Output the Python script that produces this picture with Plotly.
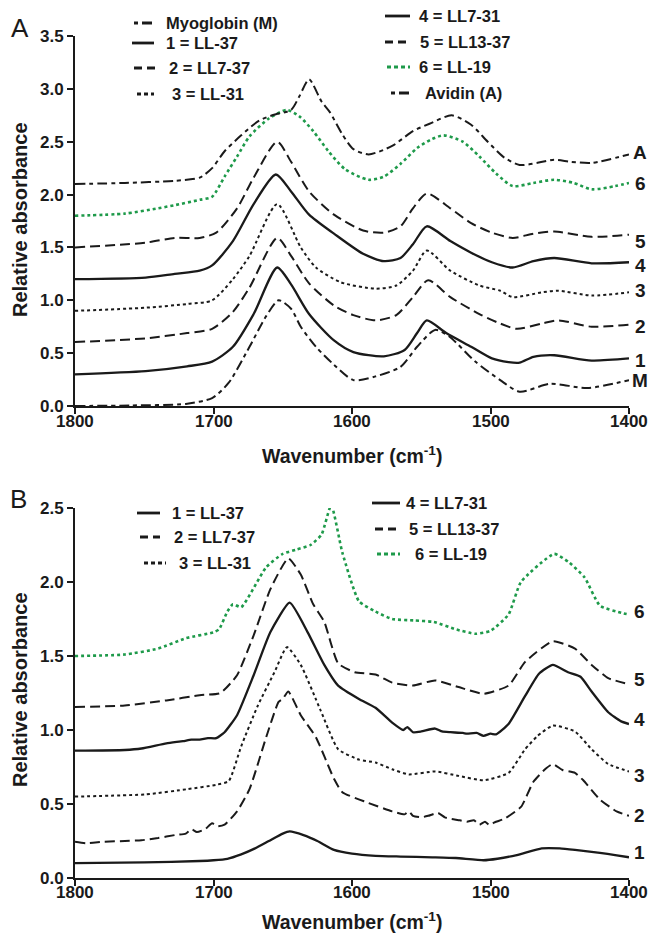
import plotly.graph_objects as go

W, H = 655, 938
def px(x):
    return x / W
def py(y):
    return 1 - y / H

FONT = "Liberation Sans, Arial, sans-serif"
BLACK = "#1a1a1a"
GREEN = "#1e9a4a"

# ---------------- Panel A data (wavenumber, relative absorbance) ----------------
a_m_x = [1800, 1760, 1720, 1701, 1689, 1674, 1662, 1653, 1644, 1637, 1626, 1613, 1599, 1583, 1565, 1553, 1540, 1530, 1511, 1493, 1479, 1457, 1430, 1400]
a_m_y = [0.0, 0.005, 0.02, 0.075, 0.22, 0.56, 0.85, 1.0, 0.92, 0.75, 0.56, 0.39, 0.245, 0.28, 0.37, 0.56, 0.72, 0.66, 0.42, 0.245, 0.135, 0.21, 0.17, 0.245]

a_1_x = [1800, 1749, 1719, 1701, 1686, 1671, 1654, 1644, 1631, 1613, 1599, 1577, 1562, 1553, 1546, 1532, 1514, 1499, 1487, 1479, 1469, 1454, 1427, 1400]
a_1_y = [0.30, 0.33, 0.375, 0.42, 0.56, 0.87, 1.31, 1.15, 0.87, 0.62, 0.51, 0.47, 0.53, 0.69, 0.81, 0.69, 0.56, 0.45, 0.415, 0.41, 0.465, 0.48, 0.43, 0.45]

a_2_x = [1800, 1749, 1719, 1701, 1686, 1674, 1654, 1644, 1631, 1613, 1599, 1583, 1568, 1556, 1545, 1529, 1508, 1493, 1481, 1463, 1451, 1427, 1400]
a_2_y = [0.605, 0.64, 0.69, 0.73, 0.89, 1.12, 1.59, 1.42, 1.16, 0.95, 0.86, 0.81, 0.86, 1.03, 1.19, 1.03, 0.87, 0.78, 0.73, 0.78, 0.81, 0.75, 0.77]

a_3_x = [1800, 1749, 1719, 1701, 1686, 1674, 1654, 1637, 1626, 1608, 1583, 1568, 1556, 1546, 1529, 1508, 1493, 1484, 1463, 1451, 1427, 1400]
a_3_y = [0.90, 0.93, 0.965, 1.0, 1.2, 1.42, 1.91, 1.50, 1.31, 1.17, 1.11, 1.14, 1.28, 1.47, 1.28, 1.14, 1.09, 1.03, 1.075, 1.09, 1.045, 1.075]

a_4_x = [1800, 1749, 1728, 1710, 1701, 1686, 1671, 1655, 1644, 1631, 1613, 1592, 1577, 1565, 1556, 1546, 1529, 1514, 1499, 1484, 1469, 1454, 1427, 1400]
a_4_y = [1.20, 1.215, 1.25, 1.28, 1.33, 1.56, 1.91, 2.19, 2.03, 1.81, 1.63, 1.44, 1.37, 1.40, 1.53, 1.70, 1.56, 1.45, 1.36, 1.31, 1.37, 1.40, 1.35, 1.36]

a_5_x = [1800, 1749, 1728, 1710, 1698, 1683, 1671, 1654, 1644, 1631, 1613, 1592, 1577, 1565, 1556, 1546, 1529, 1514, 1499, 1484, 1469, 1454, 1427, 1400]
a_5_y = [1.50, 1.545, 1.59, 1.59, 1.64, 1.87, 2.16, 2.50, 2.31, 2.03, 1.81, 1.66, 1.64, 1.70, 1.87, 2.01, 1.87, 1.73, 1.64, 1.59, 1.63, 1.65, 1.60, 1.62]

a_6_x = [1800, 1764, 1740, 1728, 1710, 1701, 1692, 1683, 1674, 1660, 1647, 1638, 1628, 1617, 1605, 1588, 1577, 1565, 1553, 1543, 1534, 1520, 1508, 1496, 1484, 1469, 1454, 1440, 1427, 1410, 1400]
a_6_y = [1.80, 1.82, 1.87, 1.90, 1.95, 1.98, 2.17, 2.36, 2.55, 2.72, 2.80, 2.74, 2.60, 2.41, 2.24, 2.14, 2.17, 2.29, 2.44, 2.52, 2.56, 2.50, 2.36, 2.20, 2.08, 2.11, 2.14, 2.11, 2.05, 2.08, 2.11]

a_a_x = [1800, 1764, 1728, 1710, 1701, 1692, 1680, 1667, 1655, 1644, 1638, 1631, 1622, 1616, 1607, 1599, 1588, 1571, 1556, 1544, 1528, 1514, 1502, 1490, 1479, 1466, 1454, 1442, 1427, 1400]
a_a_y = [2.10, 2.11, 2.13, 2.16, 2.25, 2.41, 2.56, 2.70, 2.76, 2.80, 2.93, 3.09, 2.88, 2.78, 2.57, 2.43, 2.38, 2.46, 2.60, 2.67, 2.75, 2.66, 2.50, 2.35, 2.28, 2.30, 2.33, 2.31, 2.30, 2.38]

# ---------------- Panel B data ----------------
b_1_x = [1800, 1750, 1710, 1700, 1690, 1680, 1670, 1660, 1650, 1645, 1635, 1625, 1613, 1600, 1583, 1565, 1542, 1525, 1505, 1495, 1481, 1463, 1450, 1439, 1421, 1410, 1400]
b_1_y = [0.10, 0.105, 0.115, 0.12, 0.13, 0.16, 0.20, 0.25, 0.30, 0.315, 0.29, 0.25, 0.19, 0.165, 0.15, 0.145, 0.14, 0.135, 0.12, 0.13, 0.155, 0.20, 0.20, 0.19, 0.17, 0.155, 0.14]

b_2_x = [1800, 1792, 1779, 1764, 1752, 1740, 1728, 1720, 1716, 1712, 1706, 1701, 1697, 1692, 1683, 1674, 1662, 1653, 1650, 1646, 1637, 1626, 1613, 1607, 1589, 1571, 1562, 1559, 1556, 1550, 1545, 1538, 1533, 1529, 1522, 1517, 1512, 1508, 1504, 1501, 1496, 1490, 1478, 1469, 1460, 1455, 1448, 1439, 1433, 1421, 1409, 1400]
b_2_y = [0.245, 0.235, 0.245, 0.25, 0.255, 0.27, 0.29, 0.30, 0.33, 0.31, 0.33, 0.37, 0.35, 0.36, 0.45, 0.60, 0.95, 1.19, 1.21, 1.26, 1.10, 0.95, 0.67, 0.58, 0.51, 0.45, 0.43, 0.45, 0.42, 0.41, 0.42, 0.44, 0.41, 0.40, 0.39, 0.38, 0.39, 0.36, 0.38, 0.36, 0.38, 0.40, 0.48, 0.65, 0.74, 0.77, 0.73, 0.71, 0.66, 0.53, 0.45, 0.42]

b_3_x = [1800, 1749, 1719, 1698, 1689, 1680, 1668, 1656, 1647, 1637, 1623, 1610, 1595, 1583, 1571, 1559, 1540, 1523, 1505, 1487, 1475, 1466, 1455, 1439, 1427, 1415, 1400]
b_3_y = [0.55, 0.565, 0.60, 0.63, 0.655, 0.89, 1.165, 1.39, 1.56, 1.44, 1.14, 0.87, 0.80, 0.78, 0.735, 0.70, 0.72, 0.69, 0.66, 0.71, 0.87, 0.96, 1.03, 0.99, 0.87, 0.77, 0.72]

b_4_x = [1800, 1764, 1752, 1734, 1722, 1716, 1710, 1704, 1698, 1692, 1683, 1671, 1659, 1645, 1632, 1620, 1610, 1595, 1583, 1571, 1563, 1560, 1556, 1550, 1540, 1535, 1529, 1520, 1517, 1510, 1505, 1500, 1496, 1487, 1475, 1465, 1455, 1444, 1435, 1427, 1415, 1406, 1400]
b_4_y = [0.86, 0.865, 0.875, 0.91, 0.925, 0.935, 0.935, 0.945, 0.945, 0.985, 1.10, 1.37, 1.66, 1.86, 1.66, 1.44, 1.30, 1.21, 1.15, 1.05, 1.00, 1.02, 0.985, 0.99, 1.01, 0.99, 0.985, 0.98, 0.975, 0.98, 0.96, 0.975, 0.97, 1.04, 1.23, 1.38, 1.44, 1.39, 1.36, 1.26, 1.12, 1.06, 1.04]

b_5_x = [1800, 1764, 1734, 1710, 1695, 1683, 1671, 1659, 1646, 1637, 1628, 1620, 1610, 1598, 1583, 1571, 1556, 1540, 1523, 1505, 1487, 1475, 1455, 1439, 1427, 1415, 1400]
b_5_y = [1.155, 1.165, 1.20, 1.235, 1.25, 1.37, 1.64, 1.95, 2.16, 2.05, 1.85, 1.73, 1.45, 1.39, 1.375, 1.32, 1.30, 1.335, 1.29, 1.245, 1.30, 1.46, 1.60, 1.55, 1.44, 1.35, 1.31]

b_6_x = [1800, 1764, 1740, 1720, 1700, 1696, 1690, 1686, 1680, 1662, 1650, 1640, 1630, 1622, 1615, 1607, 1595, 1583, 1571, 1555, 1541, 1525, 1511, 1500, 1487, 1478, 1454, 1443, 1432, 1421, 1405, 1400]
b_6_y = [1.50, 1.51, 1.55, 1.62, 1.66, 1.68, 1.80, 1.85, 1.83, 2.10, 2.19, 2.22, 2.25, 2.32, 2.52, 2.20, 1.87, 1.80, 1.75, 1.74, 1.73, 1.68, 1.65, 1.67, 1.78, 2.00, 2.19, 2.13, 2.03, 1.84, 1.79, 1.78]

# ---------------- labels ----------------
x_ticks = [1800, 1700, 1600, 1500, 1400]
x_tick_text = ["1800", "1700", "1600", "1500", "1400"]
a_right_labels = ["A", "6", "5", "4", "3", "2", "1", "M"]
a_right_label_y = [2.40, 2.10, 1.56, 1.33, 1.09, 0.75, 0.43, 0.24]
b_right_labels = ["6", "5", "4", "3", "2", "1"]
b_right_label_y = [1.80, 1.34, 1.07, 0.69, 0.42, 0.17]

DASH = "10px,5px"
DOT = "3px,3px"
DASHDOT = "10px,4px,4px,4px"

styles = {
    "M": dict(color=BLACK, width=2, dash=DASHDOT),
    "1": dict(color=BLACK, width=2.3, dash="solid"),
    "2": dict(color=BLACK, width=2, dash=DASH),
    "3": dict(color=BLACK, width=2, dash=DOT),
    "4": dict(color=BLACK, width=2.3, dash="solid"),
    "5": dict(color=BLACK, width=2, dash=DASH),
    "6": dict(color=GREEN, width=2.6, dash=DOT),
    "A": dict(color=BLACK, width=2, dash=DASHDOT),
}

fig = go.Figure()

panel_a = [("M", a_m_x, a_m_y), ("1", a_1_x, a_1_y), ("2", a_2_x, a_2_y), ("3", a_3_x, a_3_y),
           ("4", a_4_x, a_4_y), ("5", a_5_x, a_5_y), ("6", a_6_x, a_6_y), ("A", a_a_x, a_a_y)]
for key, xs, ys in panel_a:
    st = styles[key]
    fig.add_trace(go.Scatter(x=xs, y=ys, mode="lines", xaxis="x", yaxis="y", showlegend=False,
                             line=dict(color=st["color"], width=st["width"], dash=st["dash"],
                                       shape="spline", smoothing=0.7)))

panel_b = [("1", b_1_x, b_1_y), ("2", b_2_x, b_2_y), ("3", b_3_x, b_3_y),
           ("4", b_4_x, b_4_y), ("5", b_5_x, b_5_y), ("6", b_6_x, b_6_y)]
for key, xs, ys in panel_b:
    st = styles[key]
    fig.add_trace(go.Scatter(x=xs, y=ys, mode="lines", xaxis="x2", yaxis="y2", showlegend=False,
                             line=dict(color=st["color"], width=st["width"], dash=st["dash"],
                                       shape="spline", smoothing=0.5)))

tickfont = dict(family=FONT, size=17, color=BLACK, weight="bold")
axis_common = dict(showline=True, linewidth=2, linecolor=BLACK, ticks="outside", ticklen=6,
                   tickwidth=2, tickcolor=BLACK, showgrid=False, zeroline=False, tickfont=tickfont,
                   automargin=False)

X0, X1 = 75, 629
fig.update_layout(
    template="none",
    width=W, height=H, margin=dict(l=0, r=0, t=0, b=0, pad=0),
    paper_bgcolor="white", plot_bgcolor="white", showlegend=False,
    xaxis=dict(domain=[px(X0), px(X1)], range=[1800, 1400], tickvals=x_ticks, showticklabels=False,
               anchor="y", **axis_common),
    yaxis=dict(domain=[py(406), py(36)], range=[0, 3.5], dtick=0.5, tickformat=".1f", anchor="x", **axis_common),
    xaxis2=dict(domain=[px(X0), px(X1)], range=[1800, 1400], tickvals=x_ticks, showticklabels=False,
                anchor="y2", **axis_common),
    yaxis2=dict(domain=[py(878), py(508)], range=[0, 2.5], dtick=0.5, tickformat=".1f", anchor="x2", **axis_common),
)

ann = []
shapes = []
# x tick labels placed close to the axis, as in the reference
for xr, yc in (("x", 421), ("x2", 892)):
    for v, t in zip(x_ticks, x_tick_text):
        ann.append(dict(text=t, x=v, y=py(yc), xref=xr, yref="paper", xanchor="center", yanchor="middle",
                        showarrow=False, font=tickfont))

xtitle_font = dict(family=FONT, size=19.5, color=BLACK, weight="bold")
ytitle_font = dict(family=FONT, size=20, color=BLACK, weight="bold")
# panel letters
letter_font = dict(family=FONT, size=26, color=BLACK)
ann.append(dict(text="A", x=px(9), y=py(28), xref="paper", yref="paper", xanchor="left", yanchor="middle",
                showarrow=False, font=letter_font))
ann.append(dict(text="B", x=px(8), y=py(499), xref="paper", yref="paper", xanchor="left", yanchor="middle",
                showarrow=False, font=letter_font))
# axis titles
for yc in (455, 921):
    ann.append(dict(text="Wavenumber (cm<sup>-1</sup>)", x=px((X0 + X1) / 2), y=py(yc), xref="paper", yref="paper",
                    xanchor="center", yanchor="middle", showarrow=False, font=xtitle_font))
for yc in (220, 690):
    ann.append(dict(text="Relative absorbance", x=px(20), y=py(yc), xref="paper", yref="paper", textangle=-90,
                    xanchor="center", yanchor="middle", showarrow=False, font=ytitle_font))

# right-hand curve labels
label_font = dict(family=FONT, size=19, color=BLACK, weight="bold")
for t, yv in zip(a_right_labels, a_right_label_y):
    ann.append(dict(text=t, x=px(640), y=yv, xref="paper", yref="y", xanchor="center", yanchor="middle",
                    showarrow=False, font=label_font))
for t, yv in zip(b_right_labels, b_right_label_y):
    ann.append(dict(text=t, x=px(639), y=yv, xref="paper", yref="y2", xanchor="center", yanchor="middle",
                    showarrow=False, font=label_font))

# legends: (key, label, sample_x0, sample_x1, text_x, y) in page pixels
legend_font = dict(family=FONT, size=16.5, color=BLACK, weight="bold")
legend_items = [
    ("M", "Myoglobin (M)", 134, 154, 164, 23),
    ("1", "1 = LL-37", 132, 154, 164, 43),
    ("2", "2 = LL7-37", 134, 156, 167, 68),
    ("3", "3 = LL-31", 137, 154, 170, 94),
    ("4", "4 = LL7-31", 385, 410, 417, 16),
    ("5", "5 = LL13-37", 385, 410, 418, 42),
    ("6", "6 = LL-19", 387, 410, 417, 67),
    ("A", "Avidin (A)", 391, 412, 423, 93),
    ("1", "1 = LL-37", 137, 160, 170, 513),
    ("2", "2 = LL7-37", 140, 160, 172, 537),
    ("3", "3 = LL-31", 144, 166, 177, 563),
    ("4", "4 = LL7-31", 372, 400, 404, 503),
    ("5", "5 = LL13-37", 375, 400, 407, 529),
    ("6", "6 = LL-19", 377, 400, 413, 554),
]
sample_dash = {"M": "4px,4px,10px,4px", "A": "4px,4px,10px,4px", "1": "solid", "4": "solid",
               "2": "8px,5px", "5": "8px,5px", "3": "4px,3px", "6": "4px,3px"}
for key, label, x0, x1, tx, yc in legend_items:
    st = styles[key]
    shapes.append(dict(type="line", xref="paper", yref="paper", x0=px(x0), x1=px(x1), y0=py(yc), y1=py(yc),
                       line=dict(color=st["color"], width=2.8, dash=sample_dash[key])))
    ann.append(dict(text=label, x=px(tx), y=py(yc), xref="paper", yref="paper", xanchor="left",
                    yanchor="middle", showarrow=False, font=legend_font))

fig.update_layout(annotations=ann, shapes=shapes)
# remove the browser's default 8px page margin so the 655x938 figure fills the window exactly
fig.write_html("out.html", config={"displayModeBar": False, "staticPlot": True},
               post_script="document.body.style.margin='0px';")
